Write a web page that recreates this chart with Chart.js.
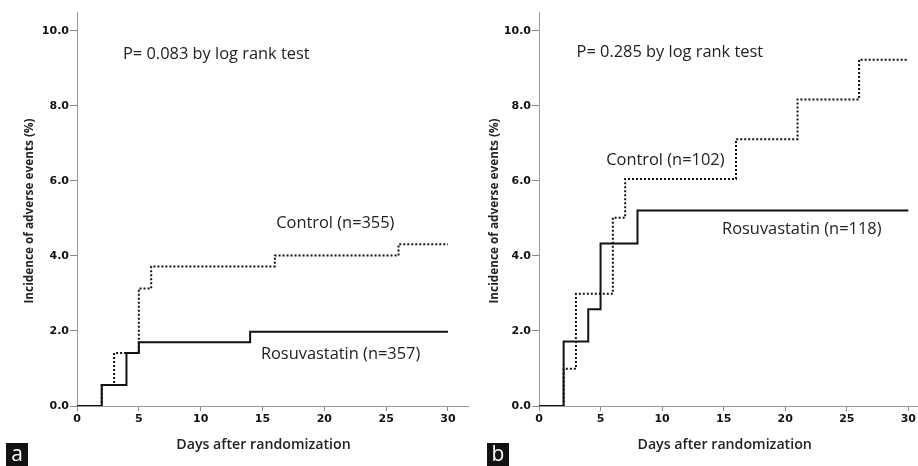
<!DOCTYPE html>
<html>
<head>
<meta charset="utf-8">
<script src="https://cdn.jsdelivr.net/npm/chart.js@4"></script>
<style>
	html, body { margin: 0; padding: 0; background: #fff; }
	#wrap { position: relative; width: 918px; height: 466px; overflow: hidden; }
	canvas { position: absolute; top: 0; }
	#cA { left: 0; }
	#cB { left: 460px; }
	.tag {
		position: absolute; top: 443px; width: 22px; height: 23px;
		background: #111; color: #fff;
		font: 21px "Open Sans", sans-serif; line-height: 21px; text-align: center;
	}
</style>
</head>
<body>
<div id="wrap">
	<canvas id="cA" width="470" height="466"></canvas>
	<canvas id="cB" width="458" height="466"></canvas>
	<div class="tag" style="left:6px">a</div>
	<div class="tag" style="left:487px">b</div>
</div>
<script>
// panel a
const aRosuDays = [0, 2, 4, 5, 14, 30];
const aRosuPct  = [0, 0.56, 1.41, 1.70, 1.98, 1.98];
const aCtrlDays = [0, 2, 3, 5, 6, 16, 26, 30];
const aCtrlPct  = [0, 0.56, 1.41, 3.13, 3.72, 4.01, 4.31, 4.31];

// panel b
const bRosuDays = [0, 2, 4, 5, 8, 30];
const bRosuPct  = [0, 1.72, 2.58, 4.33, 5.21, 5.21];
const bCtrlDays = [0, 2, 3, 6, 7, 16, 21, 26, 30];
const bCtrlPct  = [0, 0.99, 2.99, 5.02, 6.05, 7.11, 8.17, 9.23, 9.23];

const yTicks = [0, 2, 4, 6, 8, 10];
const xTicks = [0, 5, 10, 15, 20, 25, 30];

const xTitle = 'Days after randomization';
const yTitle = 'Incidence of adverse events (%)';

const toPoints = (days, pct) => days.map((d, i) => ({x: d, y: pct[i]}));

// draws the free text labels and the axis titles
const textPlugin = {
	id: 'kmText',
	afterDraw(chart, args, opts) {
		const ctx = chart.ctx;
		const xs = chart.scales.x, ys = chart.scales.y;
		ctx.save();
		ctx.fillStyle = '#222';
		ctx.textBaseline = 'middle';
		ctx.textAlign = 'left';
		ctx.font = '16.4px "Open Sans"';
		opts.labels.forEach(l => {
			ctx.fillText(l.text, xs.getPixelForValue(l.x), ys.getPixelForValue(l.y));
		});
		// axis titles
		ctx.font = '600 14.2px "Open Sans"';
		ctx.textAlign = 'center';
		const area = chart.chartArea;
		ctx.fillText(xTitle, (xs.getPixelForValue(0) + xs.getPixelForValue(30)) / 2 + 1, 445);
		ctx.translate(opts.yTitleX, (area.top + area.bottom) / 2 + 2);
		ctx.rotate(-Math.PI / 2);
		ctx.font = '700 11.8px "Open Sans"';
		ctx.fillText(yTitle, 0, 0);
		ctx.restore();
	}
};

function makeChart(id, rosu, ctrl, xMax, yWidth, rightPad, labels, yTitleX) {
	return new Chart(document.getElementById(id), {
		type: 'line',
		data: {
			datasets: [{
				label: 'Control',
				data: ctrl,
				borderColor: '#111',
				borderWidth: 2,
				borderDash: [2, 2],
				stepped: true,
				pointRadius: 0,
				fill: false
			}, {
				label: 'Rosuvastatin',
				data: rosu,
				borderColor: '#111',
				borderWidth: 2,
				stepped: true,
				pointRadius: 0,
				fill: false
			}]
		},
		options: {
			responsive: false,
			animation: false,
			layout: { padding: { top: 12, right: rightPad, bottom: 0, left: 0 } },
			plugins: {
				legend: { display: false },
				tooltip: { enabled: false },
				kmText: { labels: labels, yTitleX: yTitleX }
			},
			scales: {
				x: {
					type: 'linear',
					min: 0,
					max: xMax,
					afterFit: s => { s.height = 60; },
					afterBuildTicks: s => { s.ticks = xTicks.map(v => ({value: v})); },
					grid: { display: true, drawOnChartArea: false, drawTicks: true, tickLength: 5, color: '#888' },
					border: { display: true, color: '#999', width: 1 },
					ticks: {
						padding: 2,
						color: '#111',
						font: { family: 'DejaVu Sans', weight: 'bold', size: 11 }
					}
				},
				y: {
					min: 0,
					max: 10.5,
					afterFit: s => { s.width = yWidth; },
					afterBuildTicks: s => { s.ticks = yTicks.map(v => ({value: v})); },
					grid: { display: true, drawOnChartArea: false, drawTicks: true, tickLength: 7, color: '#888' },
					border: { display: true, color: '#999', width: 1 },
					ticks: {
						padding: 1,
						color: '#111',
						font: { family: 'DejaVu Sans', weight: 'bold', size: 11 },
						callback: v => v.toFixed(1)
					}
				}
			}
		},
		plugins: [textPlugin]
	});
}

makeChart('cA', toPoints(aRosuDays, aRosuPct), toPoints(aCtrlDays, aCtrlPct), 31.62, 77, 2, [
	{text: 'P= 0.083 by log rank test', x: 3.72, y: 9.36},
	{text: 'Control (n=355)', x: 16.11, y: 4.88},
	{text: 'Rosuvastatin (n=357)', x: 14.87, y: 1.38}
], 30);

makeChart('cB', toPoints(bRosuDays, bRosuPct), toPoints(bCtrlDays, bCtrlPct), 30.74, 79, 0, [
	{text: 'P= 0.285 by log rank test', x: 3.05, y: 9.42},
	{text: 'Control (n=102)', x: 5.46, y: 6.56},
	{text: 'Rosuvastatin (n=118)', x: 14.87, y: 4.71}
], 35);
</script>
</body>
</html>
